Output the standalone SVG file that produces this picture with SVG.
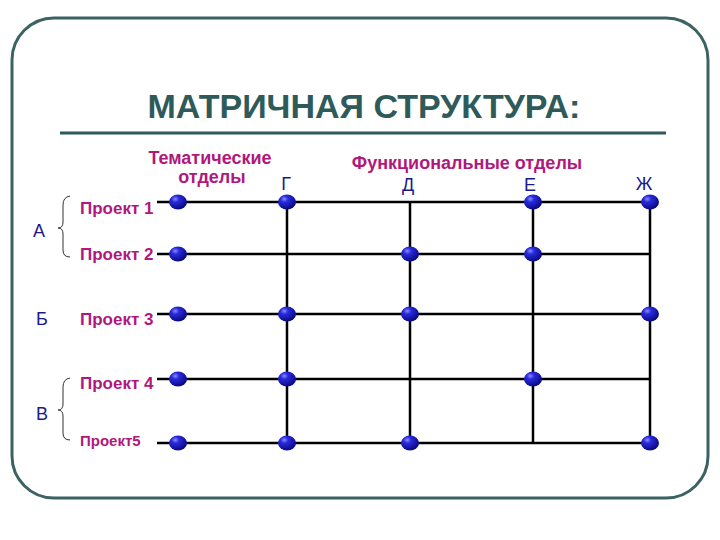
<svg xmlns="http://www.w3.org/2000/svg" width="720" height="540" viewBox="0 0 720 540">
<defs>
<radialGradient id="ball" cx="0.35" cy="0.3" r="0.7">
<stop offset="0" stop-color="#8a8cff"/>
<stop offset="0.3" stop-color="#2a2ae0"/>
<stop offset="1" stop-color="#0a0a80"/>
</radialGradient>
<style>
.frame{fill:#fff;stroke:#3d6262;stroke-width:3}
.title{font-family:"Liberation Sans",Arial,sans-serif;font-weight:bold;font-size:34px;fill:#2f5a5a}
.mag{font-family:"Liberation Sans",Arial,sans-serif;font-weight:bold;font-size:17px;fill:#b0187c}
.hdr{font-family:"Liberation Sans",Arial,sans-serif;font-weight:bold;font-size:18px;fill:#b0187c}
.blu{font-family:"Liberation Sans",Arial,sans-serif;font-size:18px;fill:#1a1a8c}
.ln{stroke:#000;stroke-width:2.5;fill:none}
.br{stroke:#333;stroke-width:1;fill:none}
.dot{fill:url(#ball)}
</style>
</defs>
<rect class="frame" x="12" y="18" width="696" height="480" rx="42" ry="42"/>
<text class="title" x="364" y="118" text-anchor="middle">МАТРИЧНАЯ СТРУКТУРА:</text>
<line x1="60" y1="133" x2="666" y2="133" stroke="#2f5a5a" stroke-width="3"/>

<g id="labels">
<text class="hdr" x="210" y="164" text-anchor="middle">Тематические</text>
<text class="hdr" x="212" y="183" text-anchor="middle">отделы</text>
<text class="hdr" x="467" y="169" text-anchor="middle">Функциональные отделы</text>
<text class="blu" x="286" y="190" text-anchor="middle">Г</text>
<text class="blu" x="408" y="191" text-anchor="middle">Д</text>
<text class="blu" x="530" y="191" text-anchor="middle">Е</text>
<text class="blu" x="644" y="190" text-anchor="middle">Ж</text>
<text class="blu" x="39" y="237" text-anchor="middle">А</text>
<text class="blu" x="42" y="325" text-anchor="middle">Б</text>
<text class="blu" x="42" y="420" text-anchor="middle">В</text>
</g>

<g id="braces">
<path class="br" d="M70,196 Q63,197 63,205 L63,222 Q63,228 58,228 Q63,228 63,234 L63,250 Q63,257 70,257"/>
<path class="br" d="M70,378 Q63,379 63,387 L63,404 Q63,410 58,410 Q63,410 63,416 L63,433 Q63,440 70,440"/>
</g>

<g id="projects">
<text class="mag" x="80" y="214">Проект 1</text>
<text class="mag" x="80" y="260">Проект 2</text>
<text class="mag" x="80" y="325">Проект 3</text>
<text class="mag" x="80" y="389">Проект 4</text>
<text class="mag" x="80" y="446" style="font-size:15px">Проект5</text>
</g>

<g id="connectors">
<line class="ln" x1="157" y1="202" x2="651" y2="202"/>
<line class="ln" x1="157" y1="254" x2="651" y2="254"/>
<line class="ln" x1="157" y1="314" x2="651" y2="314"/>
<line class="ln" x1="157" y1="379" x2="651" y2="379"/>
<line class="ln" x1="157" y1="443" x2="651" y2="443"/>
<line class="ln" x1="287" y1="202" x2="287" y2="443"/>
<line class="ln" x1="410" y1="202" x2="410" y2="443"/>
<line class="ln" x1="533" y1="202" x2="533" y2="443"/>
<line class="ln" x1="650" y1="202" x2="650" y2="443"/>
</g>

<g id="dots">
<ellipse class="dot" cx="178" cy="202" rx="9" ry="7.5"/>
<ellipse class="dot" cx="287" cy="202" rx="9" ry="7.5"/>
<ellipse class="dot" cx="533" cy="202" rx="9" ry="7.5"/>
<ellipse class="dot" cx="650" cy="202" rx="9" ry="7.5"/>
<ellipse class="dot" cx="178" cy="254" rx="9" ry="7.5"/>
<ellipse class="dot" cx="410" cy="254" rx="9" ry="7.5"/>
<ellipse class="dot" cx="533" cy="254" rx="9" ry="7.5"/>
<ellipse class="dot" cx="178" cy="314" rx="9" ry="7.5"/>
<ellipse class="dot" cx="287" cy="314" rx="9" ry="7.5"/>
<ellipse class="dot" cx="410" cy="314" rx="9" ry="7.5"/>
<ellipse class="dot" cx="650" cy="314" rx="9" ry="7.5"/>
<ellipse class="dot" cx="178" cy="379" rx="9" ry="7.5"/>
<ellipse class="dot" cx="287" cy="379" rx="9" ry="7.5"/>
<ellipse class="dot" cx="533" cy="379" rx="9" ry="7.5"/>
<ellipse class="dot" cx="178" cy="443" rx="9" ry="7.5"/>
<ellipse class="dot" cx="287" cy="443" rx="9" ry="7.5"/>
<ellipse class="dot" cx="410" cy="443" rx="9" ry="7.5"/>
<ellipse class="dot" cx="650" cy="443" rx="9" ry="7.5"/>
</g>
</svg>
